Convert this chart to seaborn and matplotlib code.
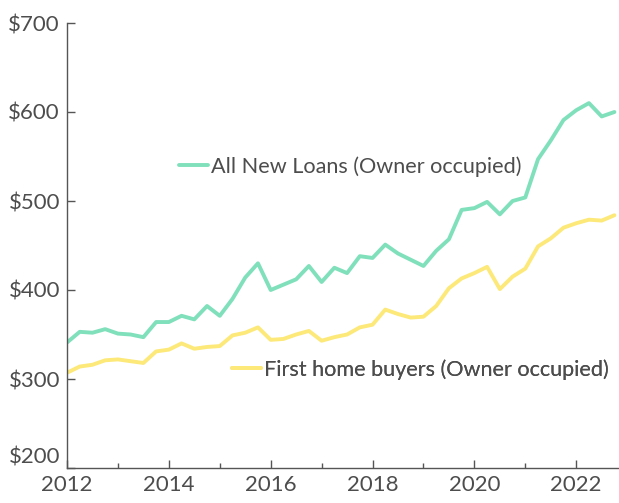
import seaborn as sns
import numpy as np
import pandas as pd
import matplotlib.pyplot as plt
from matplotlib.lines import Line2D
from matplotlib.ticker import MultipleLocator

# quarterly average new loan size ($ thousands), 2012 Q1 - 2022 Q4
quarters = 2012 + np.arange(44) * 0.25

all_new_loans = [341, 353, 352, 356, 351, 350, 347, 364, 364, 371,
                 367, 382, 371, 390, 414, 430, 400, 406, 412, 427,
                 409, 425, 419, 438, 436, 451, 441, 434, 427, 444,
                 457, 490, 492, 499, 485, 500, 504, 547, 568, 591,
                 602, 610, 595, 600]

first_home = [307, 314, 316, 321, 322, 320, 318, 331, 333, 340,
              334, 336, 337, 349, 352, 358, 344, 345, 350, 354,
              343, 347, 350, 358, 361, 378, 373, 369, 370, 382,
              402, 413, 419, 426, 401, 415, 424, 449, 458, 470,
              475, 479, 478, 484]

series_names = ['All New Loans (Owner occupied)', 'First home buyers (Owner occupied)']
colors = ['#80e0bc', '#fce97a']

df = pd.DataFrame({
    'quarter': np.concatenate([quarters, quarters]),
    'value': all_new_loans + first_home,
    'series': [series_names[0]] * len(quarters) + [series_names[1]] * len(quarters),
})

sns.set_style('white')
plt.rcParams['font.family'] = ['Lato', 'DejaVu Sans']
text_color = '#4d4d4d'
axis_color = '#555555'

fig = plt.figure(figsize=(6.19, 5.03), dpi=100)
ax = fig.add_axes([67 / 619, 1 - 468 / 503, 1 - 67 / 619, (468 - 23) / 503])

sns.lineplot(data=df, x='quarter', y='value', hue='series',
             palette=dict(zip(series_names, colors)), linewidth=2.8,
             ax=ax, legend=False)

ax.set_xlabel('')
ax.set_ylabel('')

yticks = np.arange(200, 701, 100)
ax.set_yticks(yticks)
ax.set_yticklabels([f'${v}' for v in yticks])
xticks = np.arange(2012, 2023, 2)
ax.set_xticks(xticks)
ax.set_xticklabels([str(v) for v in xticks])
ax.xaxis.set_minor_locator(MultipleLocator(1))
ax.set_xlim(2012, 2022.84)
ax.set_ylim(200, 700)

for side in ['top', 'right']:
    ax.spines[side].set_visible(False)
for side in ['left', 'bottom']:
    ax.spines[side].set_color(axis_color)
    ax.spines[side].set_linewidth(1.0)

ax.tick_params(axis='both', which='major', direction='in', length=5.5, width=1,
               color=axis_color, labelsize=16, labelcolor=text_color, pad=5,
               left=True, bottom=True)
ax.tick_params(axis='x', which='minor', direction='in', length=3.5, width=1,
               color=axis_color, bottom=True)

# lowest y label sits above the x axis
ax.get_yticklabels()[0].set_verticalalignment('bottom')

# inline series labels
anchors = [(0.203, 0.677), (0.299, 0.222)]
for name, col, anc in zip(series_names, colors, anchors):
    handle = Line2D([], [], color=col, linewidth=2.8)
    leg = ax.legend([handle], [name], loc='center left', bbox_to_anchor=anc,
                    frameon=False, borderpad=0, borderaxespad=0,
                    handlelength=1.35, handletextpad=0.12,
                    prop={'size': 15.6}, labelcolor=text_color)
    ax.add_artist(leg)

fig.savefig('out.png', dpi=100)
